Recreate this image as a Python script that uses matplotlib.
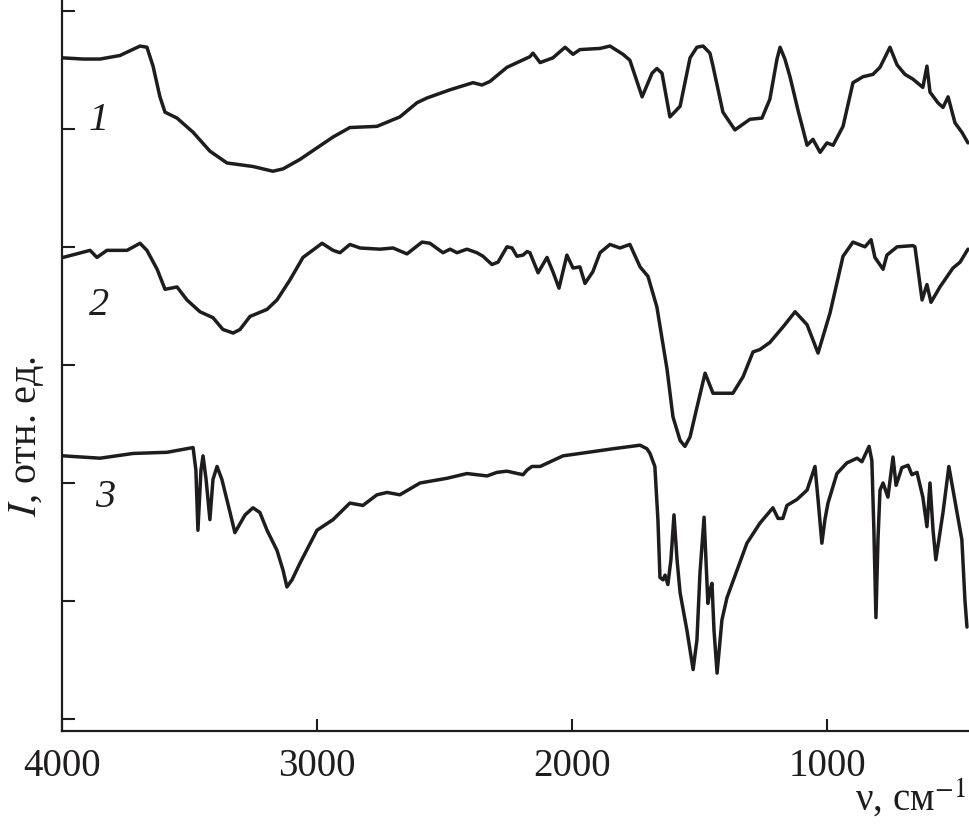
# -*- coding: utf-8 -*-
import matplotlib
matplotlib.use('Agg')
import matplotlib.pyplot as plt

plt.rcParams['font.family'] = ['Liberation Serif', 'DejaVu Serif']
plt.rcParams['mathtext.fontset'] = 'stix'

# --- ИК-спектры (волновое число, см^-1 / интенсивность, отн. ед.) ---
wn_1 = [3996, 3918, 3851, 3773, 3694, 3667, 3643, 3616, 3596, 3549, 3486, 3420, 3353, 3251,
        3173, 3133, 3067, 2937, 2871, 2765, 2675, 2608, 2569, 2478, 2388, 2353, 2322, 2255,
        2165, 2153, 2125, 2075, 2027, 1996, 1969, 1890, 1851, 1800, 1773, 1725, 1686, 1667,
        1647, 1616, 1576, 1537, 1510, 1486, 1459, 1447, 1408, 1361, 1302, 1255, 1224, 1196,
        1184, 1165, 1145, 1114, 1078, 1055, 1027, 1000, 976, 937, 898, 859, 820, 792, 753,
        725, 694, 663, 624, 608, 596, 565, 545, 525, 498, 471, 447]
int_1 = [5.60, 5.59, 5.59, 5.62, 5.70, 5.69, 5.53, 5.27, 5.14, 5.09, 4.97, 4.81, 4.71, 4.68,
         4.64, 4.66, 4.74, 4.93, 5.01, 5.02, 5.10, 5.22, 5.26, 5.33, 5.39, 5.37, 5.40, 5.52,
         5.61, 5.64, 5.56, 5.60, 5.69, 5.63, 5.67, 5.68, 5.70, 5.63, 5.58, 5.27, 5.47, 5.51,
         5.47, 5.10, 5.19, 5.60, 5.69, 5.70, 5.64, 5.53, 5.14, 4.99, 5.08, 5.09, 5.25, 5.59,
         5.69, 5.59, 5.44, 5.16, 4.86, 4.91, 4.80, 4.88, 4.86, 5.02, 5.39, 5.44, 5.46, 5.52,
         5.69, 5.54, 5.46, 5.42, 5.35, 5.53, 5.31, 5.22, 5.18, 5.27, 5.05, 4.97, 4.88]

wn_2 = [3996, 3890, 3863, 3824, 3745, 3694, 3667, 3627, 3596, 3549, 3510, 3459, 3408, 3369,
        3329, 3302, 3263, 3196, 3157, 3106, 3055, 2980, 2937, 2910, 2871, 2831, 2753, 2702,
        2647, 2588, 2557, 2506, 2478, 2451, 2412, 2373, 2349, 2314, 2290, 2255, 2235, 2216,
        2192, 2176, 2165, 2133, 2098, 2075, 2051, 2020, 1996, 1969, 1949, 1918, 1890, 1851,
        1812, 1773, 1733, 1702, 1667, 1627, 1604, 1576, 1557, 1537, 1510, 1478, 1447, 1369,
        1329, 1290, 1263, 1224, 1173, 1125, 1078, 1035, 988, 937, 898, 851, 827, 812, 780,
        765, 725, 663, 655, 627, 608, 592, 557, 506, 478, 447]
int_2 = [3.91, 3.97, 3.91, 3.97, 3.97, 4.03, 3.97, 3.81, 3.64, 3.66, 3.55, 3.45, 3.40, 3.30,
         3.27, 3.30, 3.41, 3.47, 3.55, 3.72, 3.91, 4.03, 3.97, 3.95, 4.02, 3.99, 3.98, 3.99,
         3.94, 4.04, 4.03, 3.95, 3.98, 3.95, 3.98, 3.95, 3.92, 3.85, 3.87, 4.00, 3.99, 3.92,
         3.93, 3.96, 3.95, 3.78, 3.91, 3.79, 3.65, 3.93, 3.82, 3.83, 3.69, 3.79, 3.95, 4.02,
         3.99, 4.02, 3.83, 3.75, 3.49, 2.96, 2.56, 2.36, 2.31, 2.39, 2.64, 2.93, 2.76, 2.76,
         2.90, 3.11, 3.13, 3.19, 3.32, 3.45, 3.34, 3.10, 3.44, 3.92, 4.04, 4.00, 4.06, 3.91,
         3.81, 3.93, 4.00, 4.01, 4.00, 3.55, 3.68, 3.53, 3.66, 3.82, 3.87, 3.98]

wn_3 = [3996, 3851, 3722, 3588, 3486, 3475, 3467, 3455, 3447, 3435, 3420, 3408, 3392, 3373,
        3341, 3322, 3282, 3251, 3224, 3196, 3157, 3133, 3118, 3098, 3067, 3000, 2937, 2871,
        2820, 2765, 2725, 2675, 2596, 2490, 2412, 2333, 2294, 2255, 2192, 2176, 2157, 2125,
        2035, 1969, 1839, 1733, 1706, 1694, 1675, 1663, 1655, 1643, 1635, 1624, 1612, 1600,
        1588, 1576, 1549, 1525, 1510, 1498, 1482, 1467, 1459, 1451, 1443, 1431, 1412, 1392,
        1353, 1314, 1263, 1212, 1192, 1173, 1157, 1118, 1078, 1047, 1035, 1020, 1008, 996,
        961, 922, 882, 863, 835, 824, 816, 808, 800, 792, 780, 761, 741, 729, 706, 682, 667,
        647, 624, 608, 596, 584, 573, 545, 522, 490, 471, 459, 451]
int_3 = [2.23, 2.21, 2.25, 2.26, 2.30, 2.11, 1.60, 2.11, 2.23, 2.03, 1.69, 2.03, 2.14, 2.03,
         1.75, 1.58, 1.73, 1.79, 1.75, 1.60, 1.43, 1.26, 1.12, 1.18, 1.32, 1.60, 1.69, 1.83,
         1.81, 1.90, 1.92, 1.90, 2.00, 2.04, 2.08, 2.06, 2.09, 2.10, 2.07, 2.11, 2.14, 2.14,
         2.23, 2.25, 2.29, 2.32, 2.29, 2.25, 2.14, 1.69, 1.20, 1.18, 1.22, 1.14, 1.35, 1.73,
         1.35, 1.07, 0.75, 0.42, 0.67, 1.24, 1.71, 0.98, 1.09, 1.15, 0.75, 0.39, 0.84, 1.03,
         1.26, 1.49, 1.66, 1.79, 1.70, 1.70, 1.81, 1.86, 1.94, 2.14, 1.86, 1.49, 1.69, 1.83,
         2.08, 2.17, 2.21, 2.18, 2.31, 2.19, 1.60, 0.86, 1.52, 1.94, 2.00, 1.88, 2.22, 1.98,
         2.13, 2.15, 2.07, 2.09, 1.88, 1.63, 2.00, 1.60, 1.35, 1.75, 2.14, 1.75, 1.52, 1.01,
         0.78]

curve_labels = ['1', '2', '3']
label_pos = [(3855, 5.07), (3855, 3.50), (3830, 1.88)]

x_ticks = [4000, 3000, 2000, 1000]
y_ticks = [0, 1, 2, 3, 4, 5, 6]

LINE_COLOR = '#1e1c1d'

fig = plt.figure(figsize=(9.69, 8.38), dpi=100)
ax = fig.add_axes([0.064, 0.1277, 0.936, 0.8723])

for wn, inten in [(wn_1, int_1), (wn_2, int_2), (wn_3, int_3)]:
    ax.plot(wn, inten, color=LINE_COLOR, lw=2.5, solid_joinstyle='round', solid_capstyle='round')

for text, (xp, yp) in zip(curve_labels, label_pos):
    ax.text(xp, yp, text, fontsize=29, style='italic', ha='center', va='center', color=LINE_COLOR)

ax.set_xlim(4000, 443)
ax.set_ylim(-0.10, 6.09)

ax.set_xticks(x_ticks)
ax.set_xticklabels([str(t) for t in x_ticks], fontsize=28, color=LINE_COLOR)
ax.set_yticks(y_ticks)
ax.set_yticklabels([])

ax.tick_params(axis='x', direction='in', length=9, width=1.5, pad=12, color=LINE_COLOR)
ax.tick_params(axis='y', direction='in', length=9, width=1.5, color=LINE_COLOR)

for side in ['top', 'right']:
    ax.spines[side].set_visible(False)
for side in ['left', 'bottom']:
    ax.spines[side].set_linewidth(1.6)
    ax.spines[side].set_color(LINE_COLOR)

# подписи осей
fig.text(26 / 969, 1 - 437 / 838, '$I$, отн. ед.', rotation=90, fontsize=29,
         ha='center', va='center', color=LINE_COLOR)
fig.text(966 / 969, 1 - 799 / 838, 'ν, см$^{-1}$', fontsize=28,
         ha='right', va='center', color=LINE_COLOR)

fig.savefig('out.png', dpi=100)
plt.close(fig)
